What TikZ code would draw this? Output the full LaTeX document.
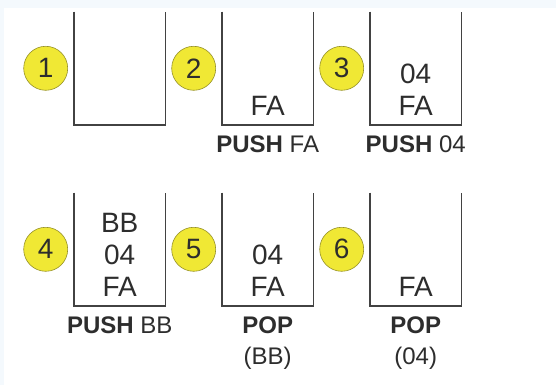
\documentclass[tikz,border=0pt]{standalone}
\usepackage{fontspec}
\setmainfont{Liberation Sans}
\usetikzlibrary{positioning,calc}
\definecolor{badge}{RGB}{240,232,52}
\definecolor{badgeline}{RGB}{150,145,40}
\definecolor{ink}{RGB}{45,45,45}
\definecolor{edge}{RGB}{244,249,253}

\begin{document}
\begin{tikzpicture}[x=1pt,y=1pt,text=ink,
  slot/.style={minimum width=91pt,minimum height=113pt,inner sep=0pt},
  cup/.style={draw=ink!90,line width=1.8pt},
  num/.style={circle,draw=badgeline,fill=badge,line width=0.6pt,minimum size=44pt,inner sep=0pt,font=\fontsize{28}{28}\selectfont},
  val/.style={anchor=base,inner sep=0pt,font=\fontsize{28}{28}\selectfont},
  lbl/.style={anchor=base,inner sep=0pt,font=\fontsize{24}{24}\selectfont}]
  \useasboundingbox (0,0) rectangle (556,385);
  \fill[edge] (0,0) rectangle (556,385);
  \fill[white] (4,0) rectangle (556,377);
  % six stacks, badge left of each
  \foreach \i/\x/\y in {1/74/260,2/222/260,3/370/260,4/74/79,5/222/79,6/370/79}{
    \node[slot,anchor=south west](k\i) at (\x,\y){};
    \draw[cup](k\i.north west)|-(k\i.south east)--(k\i.north east);
    \node[num,left=6pt of k\i.west](n\i){\i}; }
  % stack contents, bottom up
  \foreach \k/\j/\t in {2/0/FA,3/0/FA,3/1/04,4/0/FA,4/1/04,4/2/BB,5/0/FA,5/1/04,6/0/FA}
    \node[val](v\k\j) at ($(k\k.south)+(0,9+32*\j)$){\t};
  \foreach \k/\t in {2/{\textbf{PUSH} FA},3/{\textbf{PUSH} 04},4/{\textbf{PUSH} BB},5/{\textbf{POP}},6/{\textbf{POP}}}
    \node[lbl](l\k) at ($(k\k.south)+(0,-27.5)$){\t};
  \node[lbl](m5) at ($(k5.south)+(0,-58.5)$){(BB)};
  \node[lbl](m6) at ($(k6.south)+(0,-58.5)$){(04)};
\end{tikzpicture}
\end{document}
